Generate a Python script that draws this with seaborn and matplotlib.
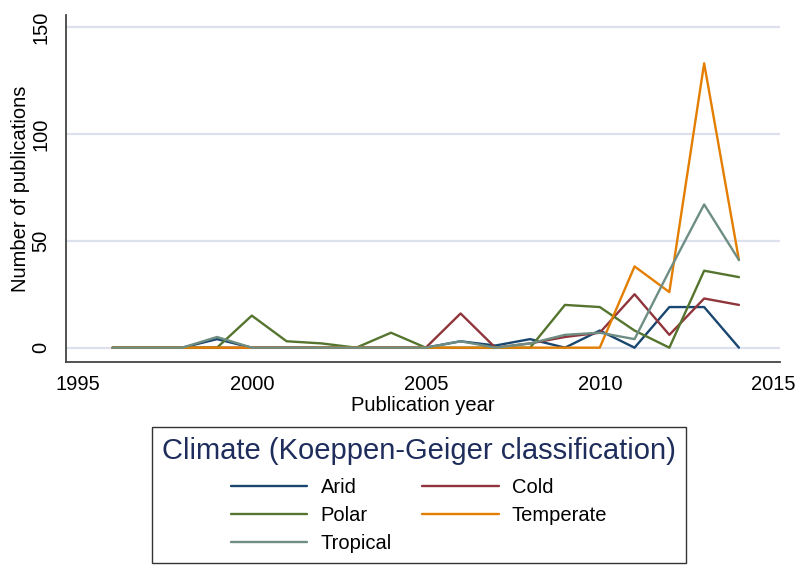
import matplotlib
matplotlib.use("Agg")
import matplotlib.pyplot as plt
import seaborn as sns
import pandas as pd
from matplotlib.lines import Line2D

years = list(range(1996, 2015))
arid      = [0, 0, 0, 4, 0, 0, 0, 0, 0, 0, 3, 1, 4, 0, 8, 0, 19, 19, 0]
cold      = [0, 0, 0, 0, 0, 0, 0, 0, 0, 0, 16, 0, 2, 5, 7, 25, 6, 23, 20]
polar     = [0, 0, 0, 0, 15, 3, 2, 0, 7, 0, 0, 0, 0, 20, 19, 8, 0, 36, 33]
temperate = [0, 0, 0, 0, 0, 0, 0, 0, 0, 0, 0, 0, 0, 0, 0, 38, 26, 133, 41]
tropical  = [0, 0, 0, 5, 0, 0, 0, 0, 0, 0, 3, 0, 2, 6, 7, 4, 36, 67, 41]

categories = ["Arid", "Cold", "Polar", "Temperate", "Tropical"]
series = [arid, cold, polar, temperate, tropical]
colors = ["#1a476f", "#90353b", "#55752f", "#e37e00", "#6e8e84"]
x_ticks = [1995, 2000, 2005, 2010, 2015]
y_ticks = [0, 50, 100, 150]

rows = []
for cat, vals in zip(categories, series):
    for yr, v in zip(years, vals):
        rows.append({"year": yr, "n": v, "climate": cat})
df = pd.DataFrame(rows)

sns.set_theme(style="white")
plt.rcParams["font.family"] = ["Liberation Sans", "DejaVu Sans"]
plt.rcParams["text.color"] = "black"

fig = plt.figure(figsize=(8, 5.72), dpi=100)
ax = fig.add_axes([66/800, 1-362/572, (780-66)/800, (362-15)/572])

pal = dict(zip(categories, colors))
sns.lineplot(data=df, x="year", y="n", hue="climate", hue_order=categories,
             palette=pal, linewidth=1.7, ax=ax, legend=False)

ax.set_xlim(1994.66, 2015.18)
ax.set_ylim(-6.7, 155.6)
ax.set_xticks(x_ticks)
ax.set_yticks(y_ticks)
ax.yaxis.grid(True, color="#dde1ee", linewidth=1.6)
ax.xaxis.grid(False)
ax.set_axisbelow(True)
for s in ["top", "right"]:
    ax.spines[s].set_visible(False)
for s in ["left", "bottom"]:
    ax.spines[s].set_color("#444444")
    ax.spines[s].set_linewidth(1.3)
ax.tick_params(axis="both", which="major", length=6.5, width=1.0, color="#444444",
               labelsize=14.5, labelcolor="black", direction="out", pad=3)
ax.tick_params(axis="y", labelrotation=90, pad=5)
for lab in ax.get_yticklabels():
    lab.set_va("center")
ax.set_xlabel("Publication year", fontsize=14.5, labelpad=1, color="black")
ax.set_ylabel("Number of publications", fontsize=14.5, labelpad=1, color="black")

order = [0, 2, 4, 1, 3]
handles = [Line2D([0], [0], color=colors[i], linewidth=1.7) for i in order]
labels = [categories[i] for i in order]
leg = fig.legend(handles, labels, ncol=2, loc="center",
                 bbox_to_anchor=(419/800, 1-495/572),
                 title="Climate (Koeppen-Geiger classification)",
                 title_fontsize=21, fontsize=14.5, frameon=True, fancybox=False,
                 edgecolor="black", handlelength=3.8, handletextpad=0.65,
                 columnspacing=1.5, labelspacing=0.43, borderpad=0.5)
leg.get_frame().set_linewidth(1.0)
leg.get_title().set_color("#1e2d5c")
for t in leg.get_texts():
    t.set_color("black")
leg._legend_box.sep = 9.5

fig.savefig("out.png", dpi=100, facecolor="white")
